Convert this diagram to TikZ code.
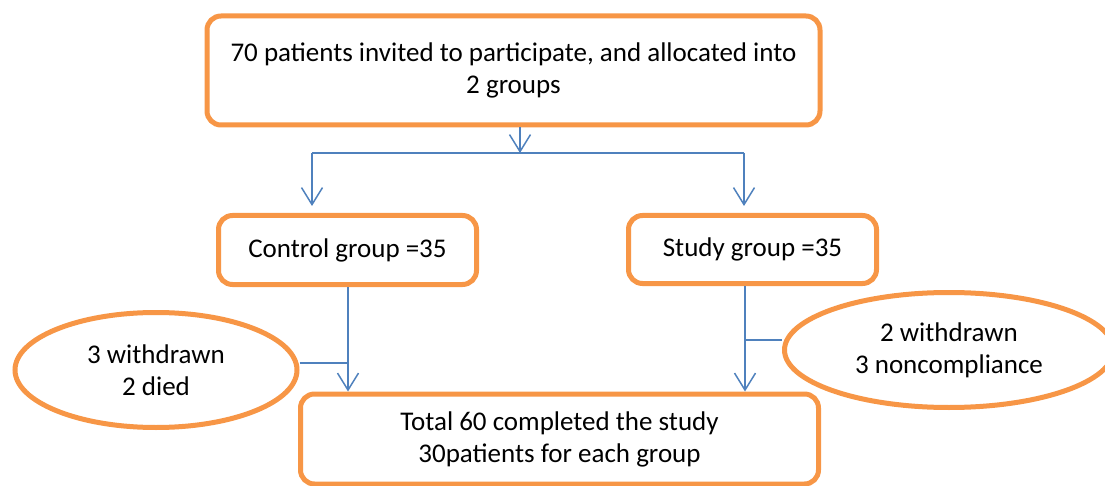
\documentclass[tikz,border=0pt]{standalone}
\usepackage{fontspec}
\setmainfont{Carlito}
\usetikzlibrary{positioning, shapes.geometric, arrows.meta}
\definecolor{boxorange}{RGB}{247,150,70}
\definecolor{linkblue}{RGB}{79,129,189}
\tikzset{
	stage/.style={draw=boxorange, line width=5pt, rounded corners=14pt, fill=white, align=center, inner sep=0pt, font=\fontsize{27}{32}\selectfont},
	dropout/.style={ellipse, draw=boxorange, line width=5pt, fill=white, align=center, inner sep=0pt, font=\fontsize{27}{32}\selectfont},
	link/.style={linkblue, line width=1.5pt},
	flow/.style={link, -{Straight Barb[length=17pt, width=21pt, line width=1.5pt]}}
}
\begin{document}
\begin{tikzpicture}[x=1pt, y=-1pt]
\useasboundingbox (0,0) rectangle (1105,486);
% boxes
\node[stage, minimum width=613pt, minimum height=109pt] (invite) at (513.5,70.5) {70 patients invited to participate, and allocated into\\2 groups};
\node[stage, minimum width=258pt, minimum height=69pt] (control) at (347.5,250) {Control group =35};
\node[stage, minimum width=248pt, minimum height=68pt] (study) at (752.5,249.5) {Study group =35};
\node[stage, minimum width=518pt, minimum height=90pt] (done) at (559.5,439) {Total 60 completed the study\\30patients for each group};
\node[dropout, minimum width=282pt, minimum height=115pt] (dropL) at (156,370) {3 withdrawn\\2 died};
\node[dropout, minimum width=329pt, minimum height=115pt] (dropR) at (949,350) {2 withdrawn\\3 noncompliance};
% connectors
\coordinate (fork) at (520,153);
\coordinate (forkL) at (312,153);
\coordinate (forkR) at (744,153);
\coordinate (joinL) at (348,363);
\coordinate (joinR) at (745,340);
\draw[flow] (invite.south -| fork) -- (fork);
\draw[link] (forkL) -- (forkR);
\draw[flow, shorten >=7pt] (forkL) -- (forkL |- control.north);
\draw[flow, shorten >=7pt] (forkR) -- (forkR |- study.north);
\draw[flow] (control.south -| joinL) -- (joinL |- done.north);
\draw[flow] (study.south -| joinR) -- (joinR |- done.north);
\draw[link] (dropL.east |- joinL) -- (joinL);
\draw[link] (joinR) -- (dropR.west |- joinR);
\end{tikzpicture}
\end{document}
